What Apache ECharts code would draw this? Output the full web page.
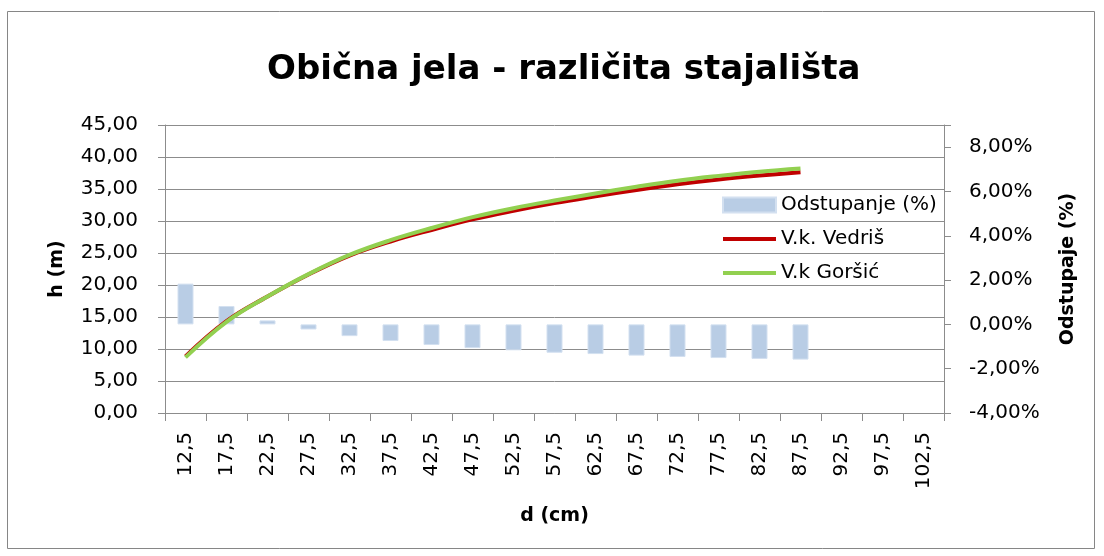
<!DOCTYPE html>
<html>
<head>
<meta charset="utf-8">
<title>Obična jela - različita stajališta</title>
<script src="https://cdn.jsdelivr.net/npm/echarts@6/dist/echarts.min.js"></script>
<style>
  html, body { margin: 0; padding: 0; background: #fff; }
  #chart { width: 1104px; height: 556px; }
</style>
</head>
<body>
<div id="chart"></div>
<script>
// Promjer (cm) – kategorije na osi x
const categories = ['12,5', '17,5', '22,5', '27,5', '32,5', '37,5', '42,5', '47,5', '52,5',
  '57,5', '62,5', '67,5', '72,5', '77,5', '82,5', '87,5', '92,5', '97,5', '102,5'];

// Visine (m) prema visinskim krivuljama
const vedris = [8.85, 14.35, 18.2, 21.65, 24.6, 26.8, 28.6, 30.25, 31.6, 32.8, 33.85, 34.85,
  35.75, 36.5, 37.1, 37.6];
const gorsic = [8.7, 14.25, 18.2, 21.7, 24.7, 27.0, 28.9, 30.6, 32.0, 33.2, 34.3, 35.35,
  36.3, 37.05, 37.7, 38.2];

// Odstupanje (%) između krivulja
const odstupanje = [1.84, 0.83, 0.18, -0.23, -0.53, -0.75, -0.93, -1.07, -1.17, -1.28,
  -1.34, -1.41, -1.47, -1.52, -1.56, -1.59];

const FONT = 'DejaVu Sans';
const GRID_COLOR = '#8c8c8c';
const fmt = (v, d) => v.toFixed(d).replace('.', ',');
// tanka vodoravna traka kao ikona linije u legendi
const LINE_ICON = 'path://M0,0H53V4H0Z';

const chart = echarts.init(document.getElementById('chart'), null, { renderer: 'canvas' });

chart.setOption({
  animation: false,
  backgroundColor: '#ffffff',
  textStyle: { fontFamily: FONT, color: '#000' },
  title: {
    text: 'Obična jela - različita stajališta',
    left: 262,
    top: 48,
    textStyle: { fontFamily: FONT, fontWeight: 'bold', fontSize: 34, color: '#000' }
  },
  graphic: [{
    type: 'rect',
    shape: { x: 7.5, y: 11.5, width: 1087, height: 537 },
    style: { fill: 'none', stroke: '#868686', lineWidth: 1 },
    silent: true,
    z: -1
  }],
  legend: {
    orient: 'vertical',
    left: 717,
    top: 190,
    itemWidth: 53,
    itemHeight: 15,
    itemGap: 14,
    textStyle: { fontFamily: FONT, fontSize: 20, color: '#000' },
    data: [
      { name: 'Odstupanje (%)', icon: 'rect' },
      { name: 'V.k. Vedriš', icon: LINE_ICON },
      { name: 'V.k Goršić', icon: LINE_ICON }
    ]
  },
  grid: { left: 165, right: 160, top: 125, bottom: 143, containLabel: false },
  xAxis: {
    type: 'category',
    data: categories,
    boundaryGap: true,
    name: 'd (cm)',
    nameLocation: 'middle',
    nameGap: 94,
    nameTextStyle: { fontFamily: FONT, fontWeight: 'bold', fontSize: 19, color: '#000' },
    axisLine: { lineStyle: { color: GRID_COLOR, width: 1 } },
    axisTick: { show: true, interval: 0, length: 8, alignWithLabel: false, lineStyle: { color: GRID_COLOR } },
    axisLabel: { interval: 0, rotate: 90, margin: 19, fontSize: 20, fontFamily: FONT, color: '#000' },
    splitLine: { show: false }
  },
  yAxis: [{
    type: 'value',
    position: 'left',
    min: 0,
    max: 45,
    interval: 5,
    name: 'h (m)',
    nameLocation: 'middle',
    nameRotate: 90,
    nameGap: 98,
    nameTextStyle: { fontFamily: FONT, fontWeight: 'bold', fontSize: 19, color: '#000' },
    axisLine: { show: true, lineStyle: { color: GRID_COLOR, width: 1 } },
    axisTick: { show: true, length: 7, lineStyle: { color: GRID_COLOR } },
    axisLabel: { margin: 27, fontSize: 20, fontFamily: FONT, color: '#000', formatter: v => fmt(v, 2) },
    splitLine: { show: true, lineStyle: { color: GRID_COLOR, width: 1 } }
  }, {
    type: 'value',
    position: 'right',
    min: -4,
    max: 9,
    interval: 2,
    name: 'Odstupaje (%)',
    nameLocation: 'middle',
    nameRotate: 90,
    nameGap: 115,
    nameTextStyle: { fontFamily: FONT, fontWeight: 'bold', fontSize: 19, color: '#000' },
    axisLine: { show: true, lineStyle: { color: GRID_COLOR, width: 1 } },
    axisTick: { show: true, length: 7, lineStyle: { color: GRID_COLOR } },
    axisLabel: {
      margin: 25, fontSize: 20, fontFamily: FONT, color: '#000',
      formatter: v => (v > 8 ? '' : fmt(v, 2) + '%')
    },
    splitLine: { show: false }
  }],
  series: [{
    name: 'Odstupanje (%)',
    type: 'bar',
    yAxisIndex: 1,
    data: odstupanje,
    barWidth: 16,
    itemStyle: { color: '#b9cde5', borderColor: '#d3e0f0', borderWidth: 1 },
    z: 2
  }, {
    name: 'V.k. Vedriš',
    type: 'line',
    yAxisIndex: 0,
    data: vedris,
    smooth: 0.4,
    symbol: 'none',
    lineStyle: { color: '#c00000', width: 4 },
    itemStyle: { color: '#c00000' },
    z: 3
  }, {
    name: 'V.k Goršić',
    type: 'line',
    yAxisIndex: 0,
    data: gorsic,
    smooth: 0.4,
    symbol: 'none',
    lineStyle: { color: '#92d050', width: 4 },
    itemStyle: { color: '#92d050' },
    z: 4
  }]
});
</script>
</body>
</html>
